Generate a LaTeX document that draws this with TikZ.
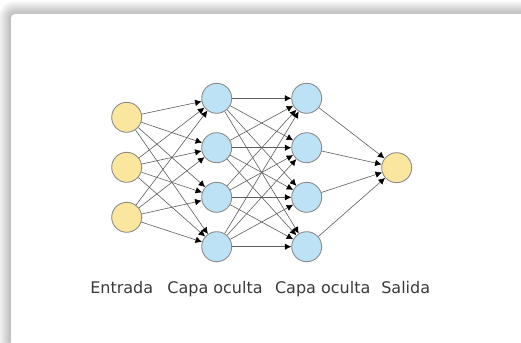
\documentclass[tikz,border=0pt]{standalone}
\usepackage{fontspec}
\setmainfont{DejaVu Sans}
\usetikzlibrary{arrows.meta}
\definecolor{inyellow}{HTML}{FBE6A0}
\definecolor{hidblue}{HTML}{BEE2F5}
\definecolor{ringgray}{HTML}{8C8C8C}
\definecolor{wiregray}{HTML}{5E5E5E}
\definecolor{labelgray}{HTML}{3A3A3A}
\tikzset{
  neuron/.style={circle, draw=ringgray, line width=0.9pt, minimum size=30pt, inner sep=0pt},
  inneuron/.style={neuron, fill=inyellow},
  hidneuron/.style={neuron, fill=hidblue},
  wire/.style={draw=wiregray, line width=0.6pt, -{Latex[length=6.5pt,width=6.5pt,color=black]}},
  layerlabel/.style={anchor=base, text=labelgray, font=\fontsize{16}{19}\selectfont, inner sep=0pt},
}
\begin{document}
\begin{tikzpicture}[x=1pt,y=-1pt]
\useasboundingbox (0,0) rectangle (521,342);
% page background
\fill[white] (0,0) rectangle (521,342);
% soft shadow behind the card
\foreach \i in {0,...,13}{
  \fill[black, opacity=0.02, rounded corners={4pt+\i pt}] (11-\i,14-\i) rectangle (540,360);
}
% card
\fill[white, rounded corners=4pt] (11,14) rectangle (540,360);

% input layer
\foreach \j/\y in {1/117.3, 2/167.3, 3/217.3}
  \node[inneuron] (i\j) at (126.7,\y) {};
% first hidden layer
\foreach \j/\y in {1/98.3, 2/147.7, 3/197.3, 4/246.7}
  \node[hidneuron] (a\j) at (216.7,\y) {};
% second hidden layer
\foreach \j/\y in {1/98.3, 2/147.7, 3/197.3, 4/246.7}
  \node[hidneuron] (b\j) at (306.7,\y) {};
% output layer
\node[inneuron] (o) at (396.7,167.7) {};

% connections
\foreach \p in {1,2,3}
  \foreach \q in {1,2,3,4}
    \draw[wire] (i\p) -- (a\q);
\foreach \p in {1,2,3,4}
  \foreach \q in {1,2,3,4}
    \draw[wire] (a\p) -- (b\q);
\foreach \p in {1,2,3,4}
  \draw[wire] (b\p) -- (o);

% layer captions
\node[layerlabel] (l1) at (121.7,293) {Entrada};
\node[layerlabel] (l2) at (215,293) {Capa oculta};
\node[layerlabel] (l3) at (322.7,293) {Capa oculta};
\node[layerlabel] (l4) at (405.7,293) {Salida};
\end{tikzpicture}
\end{document}
